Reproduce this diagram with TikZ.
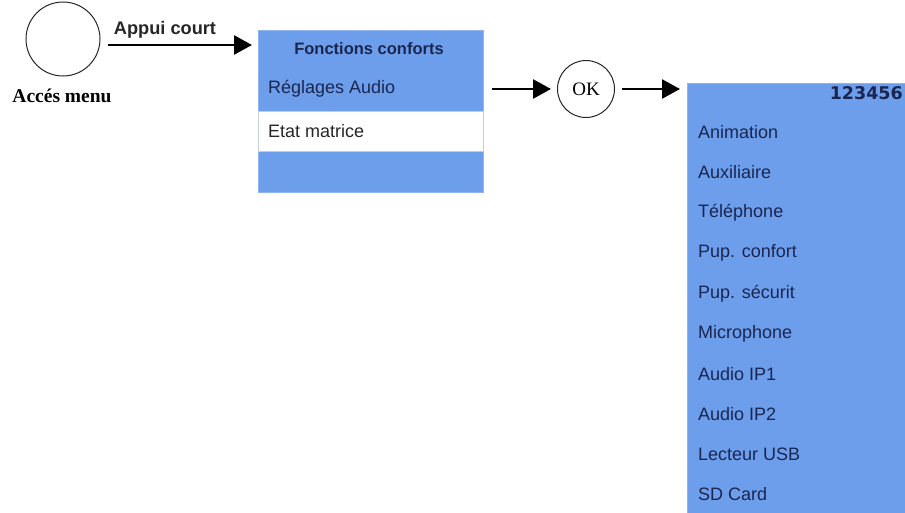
\documentclass[tikz,border=0pt]{standalone}
\usepackage{fontspec}
\setmainfont{Liberation Serif}
\setsansfont{Liberation Sans}
\newfontfamily\dvsans{DejaVu Sans}
\usetikzlibrary{arrows.meta}
\definecolor{panelblue}{HTML}{6D9EEB}
\definecolor{paneledge}{HTML}{8FB4EE}
\definecolor{navytext}{HTML}{1A2650}
\definecolor{bandedge}{HTML}{C8CCD4}
\tikzset{
  panel/.style={fill=panelblue, draw=paneledge, line width=0.8pt, anchor=north west, inner sep=0pt},
  band/.style={fill=white, draw=bandedge, line width=0.8pt, anchor=north west, inner sep=0pt},
  ringnode/.style={circle, draw=black!85, line width=1pt, inner sep=0pt},
  item/.style={anchor=west, font=\sffamily\fontsize{18}{20}\selectfont, text=navytext, inner sep=0pt},
  bigarrow/.style={line width=2.6pt, -{Triangle[length=18pt,width=19pt]}},
}
\begin{document}
\begin{tikzpicture}[x=1pt,y=-1pt]
\useasboundingbox (0,0) rectangle (905,512);
\clip (0,0) rectangle (905,512);
% left circle
\node[ringnode, minimum size=74pt] (acc) at (63,39) {};
\node[font=\rmfamily\bfseries\fontsize{19.5}{22}\selectfont, inner sep=0pt] (acclbl) at (62,96) {Accés menu};
% box 1
\node[panel, minimum width=225pt, minimum height=162pt] (box1) at (258,30) {};
\node[band, minimum width=225pt, minimum height=40pt] (band1) at (258,111) {};
\node[font=\sffamily\bfseries\fontsize{16.5}{19}\selectfont, text=navytext, inner sep=0pt] (t1) at (369,49) {Fonctions conforts};
\node[item] (r1) at (268,89) {Réglages Audio};
\node[item, text=black!85] (r2) at (268,131) {Etat matrice};
% arrow 1
\coordinate (a1s) at (108,45);
\draw[bigarrow, shorten >=6pt] (a1s) -- (box1.west |- a1s)
  node[pos=0.38, above=5pt, font=\sffamily\bfseries\fontsize{18.2}{20}\selectfont, text=black!85, inner sep=0pt] {Appui court};
% OK circle
\node[ringnode, minimum size=57pt, font=\rmfamily\fontsize{19}{21}\selectfont] (ok) at (586,89) {OK};
\coordinate (a2s) at (492,89);
\draw[bigarrow, shorten >=6pt] (a2s) -- (ok.west);
% box 2
\node[panel, minimum width=225pt, minimum height=460pt] (box2) at (687,83) {};
\draw[bigarrow, shorten <=7pt, shorten >=7pt] (ok.east) -- (box2.west |- ok.east);
\node[anchor=east, font=\dvsans\bfseries\fontsize{17.5}{19}\selectfont, text=navytext, inner sep=0pt] (num) at (903,93) {123456};
\node[item] (i1) at (698,132) {Animation};
\node[item] (i2) at (698,172) {Auxiliaire};
\node[item] (i3) at (698,213) {Téléphone};
\node[item] (i4) at (698,253) {Pup. confort};
\node[item] (i5) at (698,294) {Pup. sécurit};
\node[item] (i6) at (698,334) {Microphone};
\node[item] (i7) at (698,374) {Audio IP1};
\node[item] (i8) at (698,414) {Audio IP2};
\node[item] (i9) at (698,454) {Lecteur USB};
\node[item] (i10) at (698,494) {SD Card};
\end{tikzpicture}
\end{document}
